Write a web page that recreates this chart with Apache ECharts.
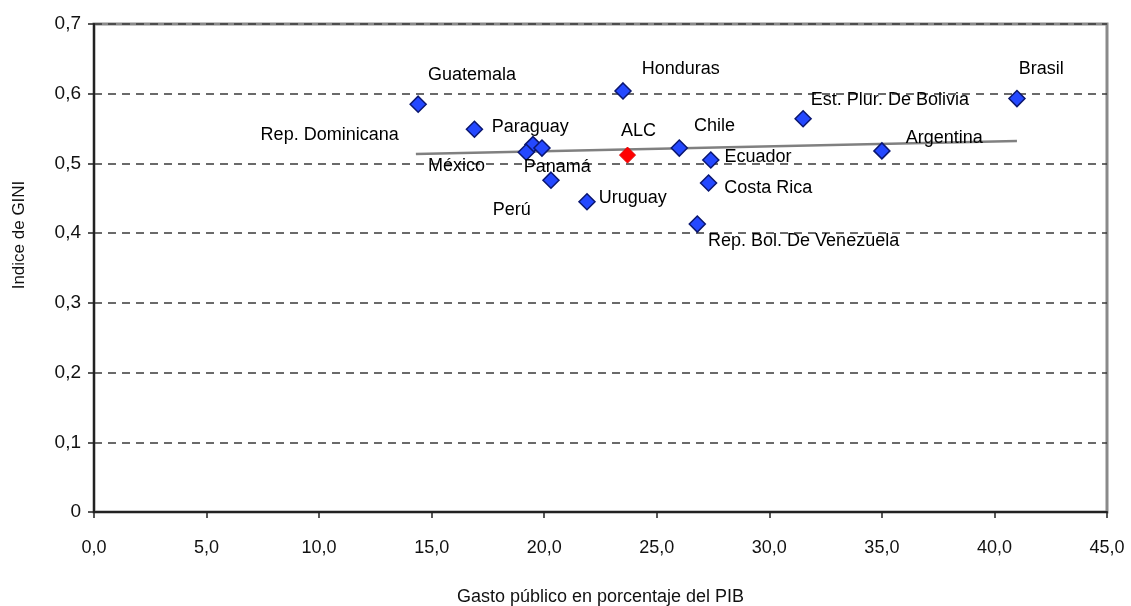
<!DOCTYPE html>
<html>
<head>
<meta charset="utf-8">
<script src="https://cdn.jsdelivr.net/npm/echarts@6/dist/echarts.min.js"></script>
<style>
html,body{margin:0;padding:0;background:#fff;}
#c{width:1131px;height:606px;}
</style>
</head>
<body>
<div id="c"></div>
<script>
// ---- data ----
const countries = ["Guatemala","Rep. Dominicana","Paraguay","México","Panamá","Perú","Uruguay","Honduras","Chile","Ecuador","Costa Rica","Rep. Bol. De Venezuela","Est. Plur. De Bolivia","Argentina","Brasil"];
const gasto = [14.4, 16.9, 19.5, 19.2, 19.9, 20.3, 21.9, 23.5, 26.0, 27.4, 27.3, 26.8, 31.5, 35.0, 41.0];
const gini  = [0.585, 0.549, 0.527, 0.516, 0.522, 0.476, 0.445, 0.604, 0.522, 0.505, 0.472, 0.413, 0.564, 0.518, 0.593];
const alcName = "ALC";
const alcGasto = 23.7;
const alcGini = 0.512;
const trendX = [14.3, 41.0];
const trendY = [0.5136, 0.5323];
const xTickLabels = ["0,0","5,0","10,0","15,0","20,0","25,0","30,0","35,0","40,0","45,0"];
const yTickLabels = ["0","0,1","0,2","0,3","0,4","0,5","0,6","0,7"];

// ---- label placement (style only): text edge & centre offset from the point, px ----
const SYM = 16;
const labelLayout = {
  "Guatemala": [9,-29,'left'],
  "Rep. Dominicana": [-75,6,'right'],
  "Paraguay": [-42,-18,'left'],
  "México": [-99,14,'left'],
  "Panamá": [-19,19,'left'],
  "Perú": [-59,30,'left'],
  "Uruguay": [11,-4,'left'],
  "Honduras": [18,-22,'left'],
  "Chile": [14,-22,'left'],
  "Ecuador": [13,-3,'left'],
  "Costa Rica": [15,5,'left'],
  "Rep. Bol. De Venezuela": [10,17,'left'],
  "Est. Plur. De Bolivia": [7,-19,'left'],
  "Argentina": [23,-13,'left'],
  "Brasil": [1,-30,'left'],
  "ALC": [-7,-24,'left']
};
const FONT = 'Liberation Sans, Arial, sans-serif';
function lbl(name){
  const l = labelLayout[name];
  const isLeft = l[2] === 'left';
  return {show:true, formatter:name, position: isLeft ? 'right' : 'left', distance:0,
          offset:[isLeft ? l[0]-SYM/2 : l[0]+SYM/2, l[1]],
          fontFamily:FONT, fontSize:18, color:'#000', opacity:1, textBorderWidth:0};
}

const countryData = countries.map((n,i)=>({name:n, value:[gasto[i], gini[i]], label:lbl(n)}));
const alcData = [{name:alcName, value:[alcGasto, alcGini], label:lbl(alcName)}];
const trendData = trendX.map((x,i)=>[x, trendY[i]]);

const chart = echarts.init(document.getElementById('c'), null, {renderer:'canvas'});
chart.setOption({
  animation:false,
  backgroundColor:'#ffffff',
  grid:{left:94, right:24, top:24, bottom:94, show:true, borderColor:'#8a8a8a', borderWidth:3,
        backgroundColor:'transparent', containLabel:false, outerBoundsMode:'none'},
  xAxis:{
    type:'value', min:0, max:45, interval:5,
    name:'Gasto público en porcentaje del PIB', nameLocation:'middle', nameGap:76,
    nameTextStyle:{fontFamily:FONT, fontSize:18, color:'#111'},
    axisLine:{show:true, onZero:false, lineStyle:{color:'#222', width:2}},
    axisTick:{show:true, length:6, lineStyle:{color:'#222', width:1.5}},
    axisLabel:{margin:27, fontFamily:FONT, fontSize:18, color:'#111',
      formatter:(v)=>xTickLabels[Math.round(v/5)]},
    splitLine:{show:false}
  },
  yAxis:{
    type:'value', min:0, max:0.7, interval:0.1,
    axisLine:{show:true, onZero:false, lineStyle:{color:'#222', width:2}},
    axisTick:{show:true, length:6, lineStyle:{color:'#222', width:1.5}},
    axisLabel:{margin:13, fontFamily:FONT, fontSize:19, color:'#111',
      formatter:(v)=>yTickLabels[Math.round(v*10)]},
    splitLine:{show:true, lineStyle:{color:'#3a3a3a', width:1.5, type:[8,6]}}
  },
  graphic:[{type:'text', x:19, y:235, rotation:Math.PI/2,
    style:{text:'Indice de GINI', fontFamily:FONT, fontSize:17, fill:'#111', align:'center', verticalAlign:'middle'}}],
  series:[
    {type:'line', data:trendData, symbol:'none', lineStyle:{color:'#808080', width:2.5}, z:2, silent:true},
    {type:'scatter', data:countryData, symbol:'diamond', symbolSize:SYM,
      itemStyle:{color:'#2448ff', borderColor:'#0a1670', borderWidth:1.5, opacity:1}, z:3},
    {type:'scatter', data:alcData, symbol:'diamond', symbolSize:SYM,
      itemStyle:{color:'#ff0000', borderColor:'#e00000', borderWidth:1, opacity:1}, z:4}
  ]
});
</script>
</body>
</html>
